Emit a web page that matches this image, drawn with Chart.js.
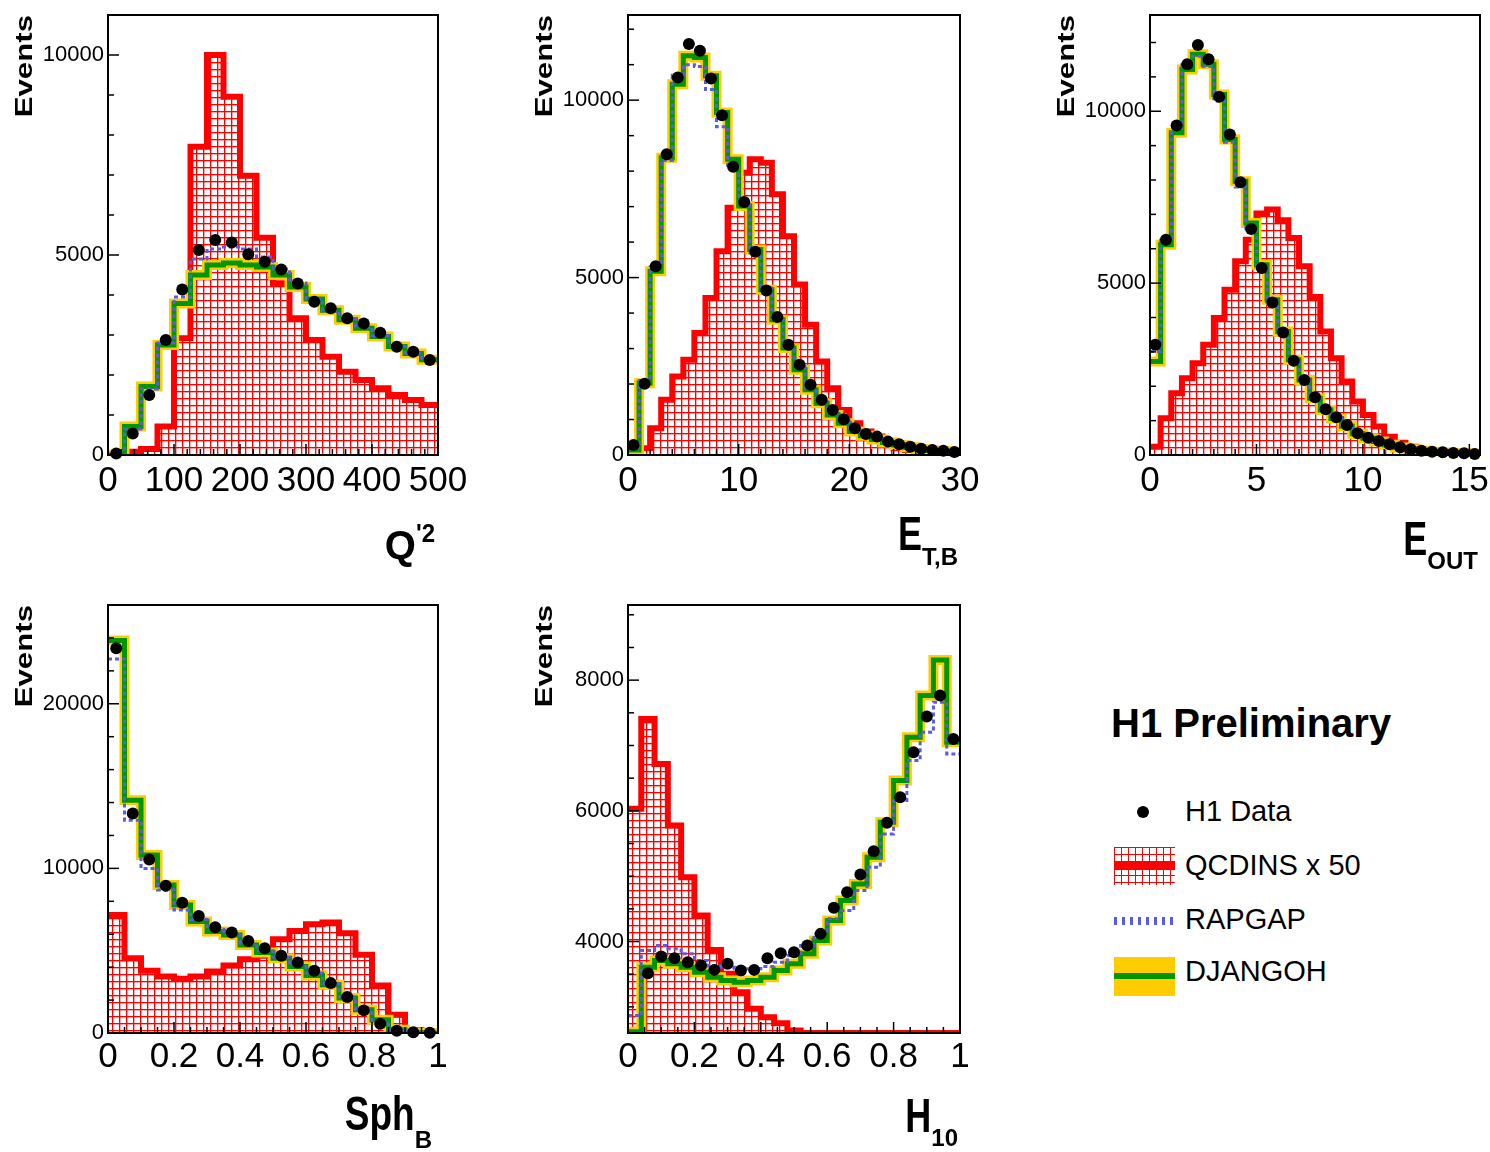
<!DOCTYPE html>
<html>
<head>
<meta charset="utf-8">
<script src="https://cdn.jsdelivr.net/npm/chart.js@4.4.1/dist/chart.umd.min.js"></script>
<style>
  body { margin: 0; background: #fff; width: 1490px; height: 1152px; position: relative; overflow: hidden; }
  canvas { position: absolute; }
  .leg { position: absolute; font-family: 'Liberation Sans', Arial, sans-serif; color: #000; white-space: nowrap; line-height: 1; }
  .sym { position: absolute; }
</style>
</head>
<body>
<canvas id="q2Chart" width="480" height="600" style="left:0px;top:-15px"></canvas>
<canvas id="etChart" width="480" height="600" style="left:520px;top:-15px"></canvas>
<canvas id="eoChart" width="470" height="600" style="left:1042px;top:-15px"></canvas>
<canvas id="sphChart" width="480" height="577" style="left:0px;top:575px"></canvas>
<canvas id="hChart" width="480" height="577" style="left:520px;top:575px"></canvas>

<div class="leg" style="left:1111px;top:703px;font-size:40px;font-weight:bold">H1 Preliminary</div>
<div class="sym" style="left:1137px;top:806px;width:12px;height:12px;border-radius:50%;background:#000"></div>
<div class="leg" style="left:1185px;top:797px;font-size:29px">H1 Data</div>
<div class="sym" style="left:1114px;top:847px;width:61px;height:38px;background-color:#fff;background-image:linear-gradient(#f00 1px, transparent 1px),linear-gradient(90deg,#f00 1px, transparent 1px);background-size:7px 7px"></div>
<div class="sym" style="left:1114px;top:862px;width:61px;height:8px;background:#f00"></div>
<div class="leg" style="left:1185px;top:851px;font-size:29px">QCDINS x 50</div>
<div class="sym" style="left:1114px;top:917px;width:61px;height:8px;background:repeating-linear-gradient(90deg,#5b5be6 0 3px,transparent 3px 8px)"></div>
<div class="leg" style="left:1185px;top:905px;font-size:29px">RAPGAP</div>
<div class="sym" style="left:1114px;top:957px;width:61px;height:39px;background:#ffcc00"></div>
<div class="sym" style="left:1114px;top:973px;width:61px;height:6px;background:#009600"></div>
<div class="leg" style="left:1185px;top:957px;font-size:29px">DJANGOH</div>

<script>
const FONT = "'Liberation Sans', Arial, sans-serif";
const RED = '#ff0000', GREEN = '#009600', YELLOW = '#ffcc00', BLUE = '#5b5be6';

// Q'2 : 20 bins 0-500
const q2Range = [0, 500];
const q2Data    = [40, 540, 1500, 2875, 4140, 5125, 5375, 5310, 5017, 4833, 4640, 4290, 3833, 3667, 3417, 3290, 3058, 2708, 2583, 2375];
const q2Qcdins  = [0, 80, 150, 710, 2917, 7708, 10000, 8958, 6983, 5433, 4292, 3417, 2875, 2458, 2083, 1875, 1667, 1500, 1375, 1250];
const q2Djangoh = [0, 710, 1710, 2750, 3790, 4500, 4750, 4800, 4750, 4700, 4500, 4200, 3900, 3620, 3380, 3170, 2960, 2710, 2540, 2380];
const q2Rapgap  = [0, 650, 1650, 2800, 3950, 4900, 5150, 5200, 5150, 4950, 4650, 4300, 3900, 3600, 3400, 3200, 2980, 2720, 2550, 2380];
const q2XTicks = [0, 100, 200, 300, 400, 500];
const q2YTicks = [0, 5000, 10000];

// E_T,B : 30 bins 0-30
const etRange = [0, 30];
const etData    = [282, 2005, 5320, 8475, 10640, 11580, 11390, 10610, 9576, 8126, 7128, 5725, 4633, 3889, 3107, 2542, 1977, 1554, 1271, 1007, 753, 593, 518, 377, 301, 235, 179, 141, 122, 85];
const etQcdins  = [47, 188, 753, 1554, 2213, 2684, 3437, 4425, 5744, 6968, 7957, 8333, 8239, 7345, 6168, 4802, 3672, 2637, 1883, 1271, 895, 659, 518, 330, 188, 141, 94, 66, 47, 28];
const etDjangoh = [140, 2025, 5180, 8380, 10450, 11250, 11200, 10690, 9650, 8333, 7015, 5790, 4660, 3810, 3013, 2400, 1836, 1460, 1130, 895, 660, 540, 440, 350, 280, 215, 165, 130, 105, 80];
const etRapgap  = [200, 2100, 5300, 8300, 10700, 11000, 10950, 10300, 9250, 8100, 7050, 5700, 4700, 3850, 3050, 2480, 1900, 1500, 1180, 950, 700, 560, 460, 360, 290, 220, 170, 135, 110, 85];
const etXTicks = [0, 10, 20, 30];
const etYTicks = [0, 5000, 10000];

// E_OUT : 31 bins 0-15.5
const eoRange = [0, 15.5];
const eoData    = [3205, 6265, 9587, 11364, 11928, 11510, 10422, 9324, 7936, 6576, 5439, 4439, 3565, 2739, 2185, 1680, 1331, 1098, 874, 631, 505, 408, 311, 223, 165, 126, 97, 78, 58, 49, 30];
const eoQcdins  = [243, 1068, 1797, 2234, 2671, 3205, 3982, 4808, 5634, 6265, 7022, 7139, 6828, 6313, 5488, 4594, 3594, 2817, 2137, 1554, 1165, 826, 534, 359, 243, 165, 117, 87, 68, 49, 39];
const eoDjangoh = [2720, 6119, 9373, 11218, 11656, 11364, 10490, 9179, 7965, 6750, 5536, 4517, 3594, 2768, 2185, 1651, 1311, 1060, 840, 620, 490, 395, 300, 220, 165, 125, 95, 75, 58, 48, 38];
const eoRapgap  = [3011, 6250, 9500, 11350, 11600, 11300, 10300, 9100, 7800, 6600, 5450, 4450, 3580, 2760, 2190, 1680, 1330, 1090, 860, 630, 500, 400, 305, 220, 165, 125, 95, 75, 58, 48, 38];
const eoXTicks = [0, 5, 10, 15];
const eoYTicks = [0, 5000, 10000];

// Sph_B : 20 bins 0-1
const sphRange = [0, 1];
const sphData    = [23371, 13332, 10544, 8949, 7918, 7110, 6424, 6100, 5595, 5151, 4686, 4282, 3777, 3030, 2182, 1374, 566, 141, 40, 20];
const sphQcdins  = [7171, 4545, 3777, 3434, 3293, 3434, 3737, 4100, 4484, 4686, 5696, 6201, 6605, 6706, 6060, 4747, 2889, 1111, 162, 40];
const sphDjangoh = [23836, 14140, 10807, 8989, 7777, 6767, 6161, 5959, 5353, 4888, 4545, 4040, 3495, 2929, 2121, 1414, 808, 202, 20, 0];
const sphRapgap  = [22725, 12928, 10000, 8686, 7474, 6900, 6300, 6000, 5450, 5000, 4600, 4150, 3650, 3000, 2200, 1450, 700, 200, 20, 0];
const sphXTicks = [0, 0.2, 0.4, 0.6, 0.8, 1];
const sphYTicks = [0, 10000, 20000];

// H_10 : 25 bins 0-1
const hRange = [0, 1];
const hData    = [null, 3515, 3770, 3745, 3684, 3633, 3566, 3658, 3556, 3566, 3745, 3821, 3837, 3939, 4117, 4515, 4755, 5025, 5382, 5816, 6208, 6897, 7443, 7764, 7100];
const hQcdins  = [6030, 7407, 6718, 5775, 4984, 4398, 3872, 3505, 3225, 2970, 2842, 2750, 2638, 2600, 2600, 2600, 2600, 2600, 2600, 2600, 2600, 2600, 2600, 2600, 2600];
const hDjangoh = [2620, 3607, 3709, 3658, 3607, 3531, 3454, 3403, 3378, 3403, 3454, 3556, 3658, 3811, 4015, 4321, 4627, 4882, 5290, 5826, 6463, 7126, 7764, 8310, 7050];
const hRapgap  = [2868, 3862, 3939, 3888, 3811, 3709, 3633, 3607, 3582, 3582, 3617, 3684, 3786, 3939, 4117, 4347, 4474, 4780, 5137, 5647, 6157, 6769, 7203, 7662, 6871];
const hXTicks = [0, 0.2, 0.4, 0.6, 0.8, 1];
const hYTicks = [4000, 6000, 8000];

function histo(range, vals) {
    const w = (range[1] - range[0]) / vals.length;
    const pts = vals.map((v, i) => ({x: range[0] + i * w, y: v}));
    pts.push({x: range[1], y: vals[vals.length - 1]});
    return pts;
}

function centres(range, vals) {
    const w = (range[1] - range[0]) / vals.length;
    return vals.map((v, i) => ({x: range[0] + (i + 0.5) * w, y: v}));
}

function hatch(ctx) {
    const c = document.createElement('canvas');
    c.width = 7; c.height = 7;
    const g = c.getContext('2d');
    g.fillStyle = '#fff'; g.fillRect(0, 0, 7, 7);
    g.fillStyle = 'rgba(255,0,0,0.35)'; g.fillRect(0, 1, 7, 1); g.fillRect(1, 0, 1, 7);
    g.fillStyle = RED; g.fillRect(0, 0, 7, 1); g.fillRect(0, 0, 1, 7);
    return ctx.createPattern(c, 'repeat');
}

// frame, inward ticks, axis titles
function deco(p) {
    return {
        id: 'h1deco',
        afterDraw(chart) {
            const ctx = chart.ctx, a = chart.chartArea;
            const xs = chart.scales.x, ys = chart.scales.y;
            ctx.save();
            ctx.strokeStyle = '#000';
            ctx.lineWidth = 1.5;
            const isMajor = (list, v) => list.some(t => Math.abs(t - v) < 1e-6);
            let start = Math.ceil(ys.min / p.yMinor - 1e-9);
            for (let k = start; k * p.yMinor <= ys.max + 1e-9; k++) {
                const v = k * p.yMinor, py = ys.getPixelForValue(v);
                const len = isMajor(p.yTicks, v) ? 11 : 6;
                ctx.beginPath(); ctx.moveTo(a.left, py); ctx.lineTo(a.left + len, py); ctx.stroke();
            }
            start = Math.ceil(xs.min / p.xMinor - 1e-9);
            for (let k = start; k * p.xMinor <= xs.max + 1e-9; k++) {
                const v = k * p.xMinor, px = xs.getPixelForValue(v);
                const len = isMajor(p.xTicks, v) ? 11 : 6;
                ctx.beginPath(); ctx.moveTo(px, a.bottom); ctx.lineTo(px, a.bottom - len); ctx.stroke();
            }
            ctx.lineWidth = 2;
            ctx.strokeRect(a.left, a.top, a.right - a.left, a.bottom - a.top);

            ctx.fillStyle = '#000';
            // Events
            ctx.save();
            ctx.translate(a.left - 83, a.top);
            ctx.rotate(-Math.PI / 2);
            ctx.scale(1.3, 1);
            ctx.font = 'bold 24px ' + FONT;
            ctx.textAlign = 'right';
            ctx.textBaseline = 'middle';
            ctx.fillText('Events', 0, 0);
            ctx.restore();

            // x title with sub/superscripts
            ctx.textAlign = 'left';
            ctx.textBaseline = 'alphabetic';
            let total = 0;
            const widths = p.title.map(part => {
                ctx.font = 'bold ' + part.size + 'px ' + FONT;
                const w = ctx.measureText(part.t).width;
                total += w;
                return w;
            });
            let x = a.right + p.titleDx - total;
            const base = a.bottom + p.titleDy;
            p.title.forEach((part, i) => {
                ctx.save();
                ctx.font = 'bold ' + part.size + 'px ' + FONT;
                ctx.translate(x, base + (part.dy || 0));
                ctx.scale(1, part.sy || 1);
                ctx.fillText(part.t, 0, 0);
                ctx.restore();
                x += widths[i];
            });
            ctx.restore();
        }
    };
}

function makePanel(id, p) {
    const ctx = document.getElementById(id).getContext('2d');
    new Chart(ctx, {
        type: 'line',
        data: {
            datasets: [{
                label: 'H1 Data',
                data: centres(p.range, p.data),
                showLine: false,
                pointRadius: 6,
                pointBackgroundColor: '#000',
                pointBorderWidth: 0,
                clip: false
            }, {
                label: 'RAPGAP',
                data: histo(p.range, p.rapgap),
                stepped: true,
                borderColor: BLUE,
                borderWidth: 3,
                borderDash: [4, 3],
                pointRadius: 0,
                fill: false
            }, {
                label: 'DJANGOH',
                data: histo(p.range, p.djangoh),
                stepped: true,
                borderColor: GREEN,
                borderWidth: 5,
                pointRadius: 0,
                fill: false
            }, {
                label: 'DJANGOH band',
                data: histo(p.range, p.djangoh),
                stepped: true,
                borderColor: YELLOW,
                borderWidth: 10,
                pointRadius: 0,
                fill: false
            }, {
                label: 'QCDINS x 50',
                data: histo(p.range, p.qcdins),
                stepped: true,
                borderColor: RED,
                borderWidth: 6,
                pointRadius: 0,
                fill: 'start',
                backgroundColor: hatch(ctx)
            }]
        },
        options: {
            responsive: false,
            animation: false,
            devicePixelRatio: 1,
            events: [],
            layout: {padding: {top: 30, right: p.padRight, left: 0, bottom: 0}},
            plugins: {legend: {display: false}, tooltip: {enabled: false}},
            scales: {
                x: {
                    type: 'linear',
                    min: p.range[0],
                    max: p.range[1],
                    afterBuildTicks: s => { s.ticks = p.xTicks.map(v => ({value: v})); },
                    afterFit: s => { s.height = p.xAxisHeight; },
                    grid: {display: false, drawTicks: false},
                    border: {display: false},
                    ticks: {
                        color: '#000',
                        font: {family: FONT, size: 35},
                        padding: p.xPad,
                        maxRotation: 0,
                        minRotation: 0,
                        autoSkip: false,
                        callback: v => String(v)
                    }
                },
                y: {
                    type: 'linear',
                    min: p.yRange[0],
                    max: p.yRange[1],
                    afterBuildTicks: s => { s.ticks = p.yTicks.map(v => ({value: v})); },
                    afterFit: s => { s.width = 108; },
                    grid: {display: false, drawTicks: false},
                    border: {display: false},
                    ticks: {
                        color: '#000',
                        font: {family: FONT, size: 22},
                        padding: 4,
                        autoSkip: false,
                        callback: v => String(v)
                    }
                }
            }
        },
        plugins: [deco(p)]
    });
}

makePanel('q2Chart', {
    range: q2Range, yRange: [0, 11000],
    data: q2Data, qcdins: q2Qcdins, djangoh: q2Djangoh, rapgap: q2Rapgap,
    xTicks: q2XTicks, yTicks: q2YTicks, xMinor: 20, yMinor: 1000,
    padRight: 42, xAxisHeight: 130, xPad: 5,
    title: [{t: 'Q', size: 40}, {t: "'2", size: 24, dy: -17, sy: 1.1}],
    titleDx: -3, titleDy: 104
});
makePanel('etChart', {
    range: etRange, yRange: [0, 12400],
    data: etData, qcdins: etQcdins, djangoh: etDjangoh, rapgap: etRapgap,
    xTicks: etXTicks, yTicks: etYTicks, xMinor: 2, yMinor: 1000,
    padRight: 40, xAxisHeight: 130, xPad: 5,
    title: [{t: 'E', size: 36, sy: 1.36}, {t: 'T,B', size: 24, dy: 15}],
    titleDx: -2, titleDy: 95
});
makePanel('eoChart', {
    range: eoRange, yRange: [0, 12800],
    data: eoData, qcdins: eoQcdins, djangoh: eoDjangoh, rapgap: eoRapgap,
    xTicks: eoXTicks, yTicks: eoYTicks, xMinor: 1, yMinor: 1000,
    padRight: 32, xAxisHeight: 130, xPad: 5,
    title: [{t: 'E', size: 36, sy: 1.36}, {t: 'OUT', size: 24, dy: 14}],
    titleDx: -2, titleDy: 100
});
makePanel('sphChart', {
    range: sphRange, yRange: [0, 26000],
    data: sphData, qcdins: sphQcdins, djangoh: sphDjangoh, rapgap: sphRapgap,
    xTicks: sphXTicks, yTicks: sphYTicks, xMinor: 0.05, yMinor: 2000,
    padRight: 42, xAxisHeight: 119, xPad: 3,
    title: [{t: 'Sph', size: 37, sy: 1.3}, {t: 'B', size: 24, dy: 18}],
    titleDx: -6, titleDy: 97
});
makePanel('hChart', {
    range: hRange, yRange: [2600, 9150],
    data: hData, qcdins: hQcdins, djangoh: hDjangoh, rapgap: hRapgap,
    xTicks: hXTicks, yTicks: hYTicks, xMinor: 0.05, yMinor: 500,
    padRight: 40, xAxisHeight: 119, xPad: 3,
    title: [{t: 'H', size: 36, sy: 1.36}, {t: '10', size: 24, dy: 14}],
    titleDx: -2, titleDy: 99
});
</script>
</body>
</html>
